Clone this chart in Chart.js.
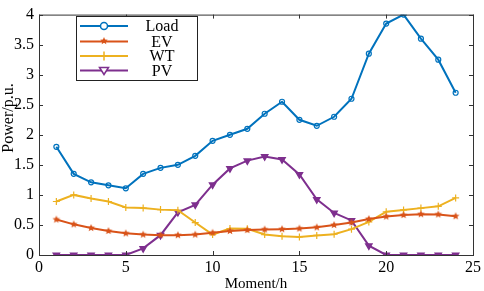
<!DOCTYPE html>
<html>
<head>
<meta charset="utf-8">
<script src="https://cdn.jsdelivr.net/npm/chart.js@4/dist/chart.umd.min.js"></script>
<style>
  html, body { margin: 0; padding: 0; background: #fff; }
  #wrap { width: 484px; height: 291px; position: relative; }
  .fontprobe { position: absolute; left: -999px; top: 0; font-family: "Liberation Serif"; font-size: 16px; }
</style>
</head>
<body>
<div class="fontprobe">Load EV WT PV Moment/h Power/p.u. 0.5</div>
<div id="wrap"><canvas id="powerChart" width="484" height="291"></canvas></div>
<script>
// ---- data ----
const hours = [1, 2, 3, 4, 5, 6, 7, 8, 9, 10, 11, 12, 13, 14, 15, 16, 17, 18, 19, 20, 21, 22, 23, 24];
const loadVals = [1.8, 1.35, 1.21, 1.16, 1.11, 1.35, 1.45, 1.5, 1.65, 1.9, 2.0, 2.1, 2.35, 2.55, 2.25, 2.15, 2.3, 2.6, 3.35, 3.85, 4.0, 3.6, 3.25, 2.7];
const evVals = [0.59, 0.51, 0.45, 0.4, 0.36, 0.34, 0.33, 0.33, 0.34, 0.37, 0.4, 0.415, 0.425, 0.43, 0.44, 0.46, 0.5, 0.54, 0.6, 0.64, 0.665, 0.68, 0.675, 0.645];
const wtVals = [0.89, 1.0, 0.94, 0.89, 0.79, 0.78, 0.755, 0.745, 0.54, 0.34, 0.44, 0.436, 0.34, 0.31, 0.3, 0.325, 0.345, 0.43, 0.55, 0.72, 0.75, 0.78, 0.81, 0.95];
const pvVals = [0, 0, 0, 0, 0, 0.11, 0.33, 0.71, 0.835, 1.17, 1.44, 1.57, 1.64, 1.59, 1.34, 0.925, 0.7, 0.575, 0.155, 0, 0, 0, 0, 0];
const seriesNames = ["Load", "EV", "WT", "PV"];
const yTitle = "Power/p.u.";
const xTitle = "Moment/h";

const FONT = "Liberation Serif";
const C_LOAD = "#0072BD", C_EV = "#D95319", C_WT = "#EDB120", C_PV = "#7E2F8E";

// filled five point star marker
function makeStar(color, r) {
    const s = Math.ceil(r * 2 + 2);
    const c = document.createElement("canvas");
    c.width = s; c.height = s;
    const g = c.getContext("2d");
    g.fillStyle = color;
    g.beginPath();
    for (let i = 0; i < 10; i++) {
        const rad = i % 2 === 0 ? r : r * 0.45;
        const a = -Math.PI / 2 + i * Math.PI / 5;
        const px = s / 2 + rad * Math.cos(a), py = s / 2 + rad * Math.sin(a);
        if (i === 0) g.moveTo(px, py); else g.lineTo(px, py);
    }
    g.closePath();
    g.fill();
    return c;
}
const starImg = makeStar(C_EV, 4);

function pts(vals) {
    return hours.map((h, i) => ({ x: h, y: vals[i] }));
}

// box + inward ticks on all four sides, y title a bit above centre
const frame = {
    id: "frame",
    afterDraw(chart) {
        const { ctx, chartArea: a, scales } = chart;
        ctx.save();
        ctx.strokeStyle = "#333";
        ctx.lineWidth = 1;
        ctx.strokeRect(a.left + 0.5, a.top + 0.5, a.right - a.left, a.bottom - a.top);
        ctx.beginPath();
        scales.x.ticks.forEach(t => {
            const px = Math.round(scales.x.getPixelForValue(t.value)) + 0.5;
            ctx.moveTo(px, a.bottom); ctx.lineTo(px, a.bottom - 4);
            ctx.moveTo(px, a.top); ctx.lineTo(px, a.top + 4);
        });
        scales.y.ticks.forEach(t => {
            const py = Math.round(scales.y.getPixelForValue(t.value)) + 0.5;
            ctx.moveTo(a.left, py); ctx.lineTo(a.left + 4, py);
            ctx.moveTo(a.right, py); ctx.lineTo(a.right - 4, py);
        });
        ctx.stroke();

        ctx.translate(9, 118);
        ctx.rotate(-Math.PI / 2);
        ctx.fillStyle = "#000";
        ctx.font = "16px '" + FONT + "'";
        ctx.textAlign = "center";
        ctx.textBaseline = "middle";
        ctx.fillText(yTitle, 0, 0);
        ctx.restore();
    }
};

// legend box inside the plot, like the original figure
const boxLegend = {
    id: "boxLegend",
    afterDraw(chart) {
        const ctx = chart.ctx;
        const x0 = 76, y0 = 16, w = 121, h = 64;
        ctx.save();
        ctx.fillStyle = "#fff";
        ctx.fillRect(x0, y0, w, h);
        ctx.strokeStyle = "#222";
        ctx.lineWidth = 1;
        ctx.strokeRect(x0 + 0.5, y0 + 0.5, w, h);
        const rows = [26, 41.5, 56, 70.5];
        chart.data.datasets.forEach((ds, i) => {
            const y = rows[i];
            ctx.strokeStyle = ds.borderColor;
            ctx.lineWidth = 2;
            ctx.beginPath();
            ctx.moveTo(80, y); ctx.lineTo(128, y);
            ctx.stroke();
            const cx = 104;
            ctx.lineWidth = 1.5;
            if (i === 0) {
                ctx.fillStyle = "#fff";
                ctx.beginPath(); ctx.arc(cx, y, 3.5, 0, Math.PI * 2); ctx.fill(); ctx.stroke();
            } else if (i === 1) {
                ctx.drawImage(starImg, cx - starImg.width / 2, y - starImg.height / 2 - 0.5);
            } else if (i === 2) {
                ctx.beginPath(); ctx.moveTo(cx, y - 4.5); ctx.lineTo(cx, y + 4.5); ctx.stroke();
            } else {
                ctx.fillStyle = "#fff";
                ctx.beginPath();
                ctx.moveTo(cx - 4.5, y - 3); ctx.lineTo(cx + 4.5, y - 3); ctx.lineTo(cx, y + 4);
                ctx.closePath(); ctx.fill(); ctx.stroke();
            }
            ctx.fillStyle = "#000";
            ctx.font = "16px '" + FONT + "'";
            ctx.textAlign = "center";
            ctx.textBaseline = "middle";
            ctx.fillText(ds.label, 162, y + 1);
        });
        ctx.restore();
    }
};

function buildChart() {
    new Chart(document.getElementById("powerChart"), {
        type: "line",
        data: {
            datasets: [
                {
                    label: seriesNames[0], data: pts(loadVals),
                    borderColor: C_LOAD, backgroundColor: "rgba(0,0,0,0)", borderWidth: 2,
                    pointStyle: "circle", pointRadius: 2.5, pointBorderWidth: 1.2,
                    pointBorderColor: C_LOAD, pointBackgroundColor: "rgba(255,255,255,0)"
                },
                {
                    label: seriesNames[1], data: pts(evVals),
                    borderColor: C_EV, backgroundColor: C_EV, borderWidth: 2,
                    pointStyle: starImg
                },
                {
                    label: seriesNames[2], data: pts(wtVals),
                    borderColor: C_WT, backgroundColor: C_WT, borderWidth: 2,
                    pointStyle: "cross", pointRadius: 3.5, pointBorderWidth: 1.2
                },
                {
                    label: seriesNames[3], data: pts(pvVals),
                    borderColor: C_PV, backgroundColor: C_PV, borderWidth: 2,
                    pointStyle: "triangle", rotation: 180, pointRadius: 3,
                    pointBorderColor: C_PV, pointBackgroundColor: C_PV
                }
            ]
        },
        options: {
            responsive: false,
            animation: false,
            layout: { padding: { top: 4, right: 5, left: 0, bottom: 0 } },
            plugins: {
                legend: { display: false },
                tooltip: { enabled: false }
            },
            scales: {
                x: {
                    type: "linear", min: 0, max: 25,
                    ticks: { stepSize: 5, color: "#000", font: { family: FONT, size: 16 }, padding: 3, maxRotation: 0 },
                    grid: { display: false, drawTicks: false },
                    border: { display: false },
                    title: { display: true, text: xTitle, color: "#000", font: { family: FONT, size: 15 }, padding: { top: 0, bottom: -2 } },
                    afterFit(s) { s.height = 36; }
                },
                y: {
                    min: 0, max: 4,
                    ticks: {
                        stepSize: 0.5, color: "#000", font: { family: FONT, size: 16 }, padding: 5,
                        callback: v => String(v)
                    },
                    grid: { display: false, drawTicks: false },
                    border: { display: false },
                    title: { display: false },
                    afterFit(s) { s.width = 39; }
                }
            }
        },
        plugins: [frame, boxLegend]
    });
}

if (document.fonts && document.fonts.load) {
    document.fonts.load("16px '" + FONT + "'").then(buildChart, buildChart);
} else {
    buildChart();
}
</script>
</body>
</html>
